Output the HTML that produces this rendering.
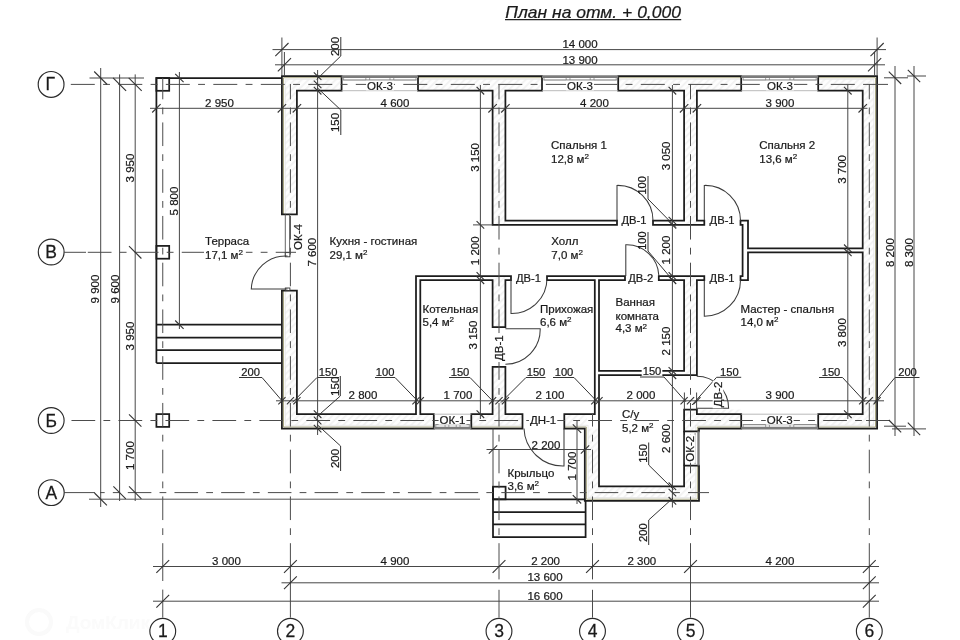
<!DOCTYPE html>
<html lang="ru"><head><meta charset="utf-8"><title>План на отм. + 0,000</title>
<style>html,body{margin:0;padding:0;background:#fff;}body{width:960px;height:640px;overflow:hidden;}svg{display:block;}text{font-family:"Liberation Sans",sans-serif;fill:#1a1a1a;stroke:#1a1a1a;stroke-width:0.22;}.wall{stroke:#1c1c1c;stroke-width:1.75;fill:none;stroke-linejoin:miter;}.wallf{stroke:none;fill:url(#hatch);}.thin{stroke:#3c3c3c;stroke-width:1.05;fill:none;}.ax{stroke:#505050;stroke-width:0.95;fill:none;stroke-dasharray:23 8.5 6.5 8;}.olive{stroke:#a9a784;stroke-width:1.0;fill:none;}</style></head><body>
<svg width="960" height="640" viewBox="0 0 960 640">
<defs><pattern id="hatch" width="4.8" height="4.8" patternUnits="userSpaceOnUse" patternTransform="rotate(45)"><rect width="4.8" height="4.8" fill="#fefefe"/><rect x="0" y="0" width="1.7" height="4.8" fill="#f2f2f2"/></pattern></defs>
<rect width="960" height="640" fill="#ffffff"/>
<g opacity="0.999">
<rect x="281.90" y="76.10" width="59.70" height="14.60" class="wallf"/>
<rect x="418.00" y="76.10" width="124.00" height="14.60" class="wallf"/>
<rect x="618.20" y="76.10" width="123.00" height="14.60" class="wallf"/>
<rect x="818.20" y="76.10" width="58.90" height="14.60" class="wallf"/>
<rect x="281.90" y="76.10" width="15.00" height="138.20" class="wallf"/>
<rect x="281.90" y="290.50" width="15.00" height="138.10" class="wallf"/>
<rect x="862.70" y="76.10" width="14.40" height="352.50" class="wallf"/>
<rect x="281.90" y="414.20" width="151.90" height="14.40" class="wallf"/>
<rect x="471.30" y="414.20" width="51.20" height="14.40" class="wallf"/>
<rect x="564.30" y="414.20" width="22.50" height="14.40" class="wallf"/>
<rect x="684.10" y="409.50" width="57.10" height="19.10" class="wallf"/>
<rect x="818.20" y="414.20" width="58.90" height="14.40" class="wallf"/>
<rect x="584.80" y="428.60" width="14.20" height="72.20" class="wallf"/>
<rect x="584.80" y="486.30" width="114.20" height="14.50" class="wallf"/>
<rect x="684.10" y="465.50" width="14.90" height="35.30" class="wallf"/>
<rect x="684.10" y="409.50" width="14.90" height="21.80" class="wallf"/>
<rect x="492.60" y="90.70" width="12.80" height="134.20" class="wallf"/>
<rect x="492.60" y="276.00" width="12.80" height="51.00" class="wallf"/>
<rect x="492.60" y="366.80" width="12.80" height="47.40" class="wallf"/>
<rect x="684.10" y="90.70" width="12.80" height="134.20" class="wallf"/>
<rect x="684.10" y="276.00" width="12.80" height="99.20" class="wallf"/>
<path d="M283.59999999999997,214.3 L283.59999999999997,77.8 L341.6,77.8" stroke="#fff" stroke-width="3.4" fill="none" stroke-linecap="butt"/>
<path d="M418.0,77.8 L542.0,77.8 M618.2,77.8 L741.2,77.8" stroke="#fff" stroke-width="3.4" fill="none" stroke-linecap="butt"/>
<path d="M818.2,77.8 L875.4,77.8 L875.4,426.90000000000003 L818.2,426.90000000000003" stroke="#fff" stroke-width="3.4" fill="none" stroke-linecap="butt"/>
<path d="M283.59999999999997,290.5 L283.59999999999997,426.90000000000003 L433.8,426.90000000000003 M471.3,426.90000000000003 L522.5,426.90000000000003" stroke="#fff" stroke-width="3.4" fill="none" stroke-linecap="butt"/>
<path d="M564.3,426.90000000000003 L586.5,426.90000000000003 L586.5,499.1 L697.3,499.1 L697.3,465.5 M697.3,431.3 L697.3,426.90000000000003 L741.2,426.90000000000003" stroke="#fff" stroke-width="3.4" fill="none" stroke-linecap="butt"/>
<path d="M285.2,214.3 L285.2,79.39999999999999 L341.6,79.39999999999999" stroke="#dcdcdc" stroke-width="0.6" fill="none"/>
<path d="M418.0,79.39999999999999 L542.0,79.39999999999999 M618.2,79.39999999999999 L741.2,79.39999999999999" stroke="#dcdcdc" stroke-width="0.6" fill="none"/>
<path d="M818.2,79.39999999999999 L873.8000000000001,79.39999999999999 L873.8000000000001,425.3 L818.2,425.3" stroke="#dcdcdc" stroke-width="0.6" fill="none"/>
<path d="M285.2,290.5 L285.2,425.3 L433.8,425.3 M471.3,425.3 L522.5,425.3" stroke="#dcdcdc" stroke-width="0.6" fill="none"/>
<path d="M564.3,425.3 L588.0999999999999,425.3 L588.0999999999999,497.5 L695.7,497.5 L695.7,465.5 M695.7,431.3 L695.7,425.3 L741.2,425.3" stroke="#dcdcdc" stroke-width="0.6" fill="none"/>
<path class="olive" d="M283.5,214.3 L283.5,77.69999999999999 L341.6,77.69999999999999"/>
<path class="olive" d="M418.0,77.69999999999999 L542.0,77.69999999999999 M618.2,77.69999999999999 L741.2,77.69999999999999"/>
<path class="olive" d="M818.2,77.69999999999999 L875.5,77.69999999999999 L875.5,427.0 L818.2,427.0"/>
<path class="olive" d="M283.5,290.5 L283.5,427.0 L433.8,427.0 M471.3,427.0 L522.5,427.0"/>
<path class="olive" d="M564.3,427.0 L586.4,427.0 L586.4,499.2 L697.4,499.2 L697.4,465.5 M697.4,431.3 L697.4,427.0 L741.2,427.0"/>
<path d="M281.90,76.10 L341.60,76.10 L341.60,90.70 L296.90,90.70 L296.90,214.30 L281.90,214.30 Z" class="wall"/>
<path d="M418.00,76.10 L542.00,76.10 L542.00,90.70 L505.40,90.70 L505.40,220.60 L617.00,220.60 L617.00,224.90 L492.60,224.90 L492.60,90.70 L418.00,90.70 Z" class="wall"/>
<path d="M618.20,76.10 L741.20,76.10 L741.20,90.70 L696.90,90.70 L696.90,220.60 L704.30,220.60 L704.30,224.90 L653.00,224.90 L653.00,220.60 L684.10,220.60 L684.10,90.70 L618.20,90.70 Z" class="wall"/>
<path d="M818.20,76.10 L877.10,76.10 L877.10,428.60 L818.20,428.60 L818.20,414.20 L862.70,414.20 L862.70,252.30 L748.00,252.30 L748.00,280.20 L740.50,280.20 L740.50,276.00 L742.60,276.00 L742.60,224.90 L740.50,224.90 L740.50,220.60 L748.00,220.60 L748.00,248.30 L862.70,248.30 L862.70,90.70 L818.20,90.70 Z" class="wall"/>
<path d="M281.90,290.50 L296.90,290.50 L296.90,414.20 L416.00,414.20 L416.00,276.00 L511.00,276.00 L511.00,280.20 L505.40,280.20 L505.40,327.00 L492.60,327.00 L492.60,280.20 L420.30,280.20 L420.30,414.20 L433.80,414.20 L433.80,428.60 L281.90,428.60 Z" class="wall"/>
<path d="M471.30,414.20 L492.60,414.20 L492.60,366.80 L505.40,366.80 L505.40,414.20 L522.50,414.20 L522.50,428.60 L471.30,428.60 Z" class="wall"/>
<path d="M547.00,276.00 L625.00,276.00 L625.00,280.20 L599.00,280.20 L599.00,370.90 L684.10,370.90 L684.10,280.20 L658.80,280.20 L658.80,276.00 L704.30,276.00 L704.30,280.20 L696.90,280.20 L696.90,375.20 L599.00,375.20 L599.00,486.30 L684.10,486.30 L684.10,465.50 L699.00,465.50 L699.00,500.80 L584.80,500.80 L584.80,428.60 L564.30,428.60 L564.30,414.20 L594.80,414.20 L594.80,280.20 L547.00,280.20 Z" class="wall"/>
<path d="M684.10,409.50 L696.90,409.50 L696.90,414.20 L741.20,414.20 L741.20,428.60 L699.00,428.60 L699.00,431.30 L684.10,431.30 Z" class="wall"/>
<path d="M156.40,363.00 L156.40,78.00 L281.90,78.00" class="wall"/>
<path d="M156.40,324.70 L281.90,324.70" class="wall"/>
<path d="M156.40,337.50 L281.90,337.50" class="wall"/>
<path d="M156.40,350.20 L281.90,350.20" class="wall"/>
<path d="M156.40,363.00 L281.90,363.00" class="wall"/>
<rect x="156.40" y="78.00" width="12.8" height="12.8" class="wall" fill="#fff"/>
<rect x="156.40" y="245.90" width="12.8" height="12.8" class="wall" fill="#fff"/>
<rect x="156.40" y="414.10" width="12.8" height="12.8" class="wall" fill="#fff"/>
<path d="M493.00,486.70 L493.00,537.00 L585.60,537.00 L585.60,500.80" class="wall"/>
<line x1="493.00" y1="428.60" x2="493.00" y2="486.70" stroke="#474747" stroke-width="1.0" />
<path d="M493.00,499.30 L585.60,499.30" class="wall"/>
<path d="M493.00,512.00 L585.60,512.00" class="wall"/>
<path d="M493.00,524.40 L585.60,524.40" class="wall"/>
<rect x="493.00" y="486.70" width="12.6" height="12.6" class="wall"/>
<line x1="341.6" y1="76.6" x2="418.0" y2="76.6" stroke="#7c7c7c" stroke-width="2.6"/>
<line x1="343.10" y1="80.00" x2="416.50" y2="80.00" stroke="#666" stroke-width="0.9" />
<line x1="343.60" y1="77.70" x2="343.60" y2="80.00" stroke="#777" stroke-width="0.7" />
<line x1="365.83" y1="77.70" x2="365.83" y2="80.00" stroke="#777" stroke-width="0.7" />
<line x1="369.63" y1="77.70" x2="369.63" y2="80.00" stroke="#777" stroke-width="0.7" />
<line x1="389.97" y1="77.70" x2="389.97" y2="80.00" stroke="#777" stroke-width="0.7" />
<line x1="393.77" y1="77.70" x2="393.77" y2="80.00" stroke="#777" stroke-width="0.7" />
<line x1="416.00" y1="77.70" x2="416.00" y2="80.00" stroke="#777" stroke-width="0.7" />
<line x1="341.60" y1="90.70" x2="418.00" y2="90.70" stroke="#a8a8a8" stroke-width="0.8" />
<line x1="542.0" y1="76.6" x2="618.2" y2="76.6" stroke="#7c7c7c" stroke-width="2.6"/>
<line x1="543.50" y1="80.00" x2="616.70" y2="80.00" stroke="#666" stroke-width="0.9" />
<line x1="544.00" y1="77.70" x2="544.00" y2="80.00" stroke="#777" stroke-width="0.7" />
<line x1="566.17" y1="77.70" x2="566.17" y2="80.00" stroke="#777" stroke-width="0.7" />
<line x1="569.97" y1="77.70" x2="569.97" y2="80.00" stroke="#777" stroke-width="0.7" />
<line x1="590.23" y1="77.70" x2="590.23" y2="80.00" stroke="#777" stroke-width="0.7" />
<line x1="594.03" y1="77.70" x2="594.03" y2="80.00" stroke="#777" stroke-width="0.7" />
<line x1="616.20" y1="77.70" x2="616.20" y2="80.00" stroke="#777" stroke-width="0.7" />
<line x1="542.00" y1="90.70" x2="618.20" y2="90.70" stroke="#a8a8a8" stroke-width="0.8" />
<line x1="741.2" y1="76.6" x2="818.2" y2="76.6" stroke="#7c7c7c" stroke-width="2.6"/>
<line x1="742.70" y1="80.00" x2="816.70" y2="80.00" stroke="#666" stroke-width="0.9" />
<line x1="743.20" y1="77.70" x2="743.20" y2="80.00" stroke="#777" stroke-width="0.7" />
<line x1="765.63" y1="77.70" x2="765.63" y2="80.00" stroke="#777" stroke-width="0.7" />
<line x1="769.43" y1="77.70" x2="769.43" y2="80.00" stroke="#777" stroke-width="0.7" />
<line x1="789.97" y1="77.70" x2="789.97" y2="80.00" stroke="#777" stroke-width="0.7" />
<line x1="793.77" y1="77.70" x2="793.77" y2="80.00" stroke="#777" stroke-width="0.7" />
<line x1="816.20" y1="77.70" x2="816.20" y2="80.00" stroke="#777" stroke-width="0.7" />
<line x1="741.20" y1="90.70" x2="818.20" y2="90.70" stroke="#a8a8a8" stroke-width="0.8" />
<line x1="741.2" y1="428.1" x2="818.2" y2="428.1" stroke="#7c7c7c" stroke-width="2.6"/>
<line x1="742.70" y1="424.70" x2="816.70" y2="424.70" stroke="#666" stroke-width="0.9" />
<line x1="743.20" y1="427.00" x2="743.20" y2="424.70" stroke="#777" stroke-width="0.7" />
<line x1="765.63" y1="427.00" x2="765.63" y2="424.70" stroke="#777" stroke-width="0.7" />
<line x1="769.43" y1="427.00" x2="769.43" y2="424.70" stroke="#777" stroke-width="0.7" />
<line x1="789.97" y1="427.00" x2="789.97" y2="424.70" stroke="#777" stroke-width="0.7" />
<line x1="793.77" y1="427.00" x2="793.77" y2="424.70" stroke="#777" stroke-width="0.7" />
<line x1="816.20" y1="427.00" x2="816.20" y2="424.70" stroke="#777" stroke-width="0.7" />
<line x1="741.20" y1="414.20" x2="818.20" y2="414.20" stroke="#a8a8a8" stroke-width="0.8" />
<line x1="433.8" y1="428.1" x2="471.3" y2="428.1" stroke="#7c7c7c" stroke-width="2.6"/>
<line x1="435.30" y1="424.70" x2="469.80" y2="424.70" stroke="#666" stroke-width="0.9" />
<line x1="435.80" y1="427.00" x2="435.80" y2="424.70" stroke="#777" stroke-width="0.7" />
<line x1="445.07" y1="427.00" x2="445.07" y2="424.70" stroke="#777" stroke-width="0.7" />
<line x1="448.87" y1="427.00" x2="448.87" y2="424.70" stroke="#777" stroke-width="0.7" />
<line x1="456.23" y1="427.00" x2="456.23" y2="424.70" stroke="#777" stroke-width="0.7" />
<line x1="460.03" y1="427.00" x2="460.03" y2="424.70" stroke="#777" stroke-width="0.7" />
<line x1="469.30" y1="427.00" x2="469.30" y2="424.70" stroke="#777" stroke-width="0.7" />
<line x1="433.80" y1="414.20" x2="471.30" y2="414.20" stroke="#a8a8a8" stroke-width="0.8" />
<line x1="698.5" y1="431.3" x2="698.5" y2="465.5" stroke="#7c7c7c" stroke-width="2.4"/>
<line x1="695.10" y1="433.00" x2="695.10" y2="464.00" stroke="#777" stroke-width="0.8" />
<path d="M684.10,431.30 L684.10,465.50" class="wall"/>
<line x1="285.30" y1="214.30" x2="285.30" y2="256.50" stroke="#555" stroke-width="0.9" />
<line x1="289.60" y1="214.30" x2="289.60" y2="256.50" stroke="#555" stroke-width="0.9" />
<rect x="285.3" y="252.6" width="4.6" height="4.2" fill="#fff" stroke="#333" stroke-width="0.9"/>
<rect x="285.3" y="288.0" width="4.6" height="2.5" fill="#fff" stroke="#333" stroke-width="0.9"/>
<path class="thin" stroke="#333" d="M287.50,288.90 L251.30,288.90 A34.50,34.50 0 0 1 287.50,256.00"/>
<path class="thin" stroke="#333" d="M617.00,220.60 L617.00,185.40 A35.20,35.20 0 0 1 653.00,220.60"/>
<path class="thin" stroke="#333" d="M704.30,220.60 L704.30,185.40 A35.20,35.20 0 0 1 740.50,220.60"/>
<path class="thin" stroke="#333" d="M704.30,280.20 L704.30,316.20 A36.00,36.00 0 0 0 740.50,280.20"/>
<path class="thin" stroke="#333" d="M511.00,278.20 L511.00,313.50 A35.30,35.30 0 0 0 547.00,278.20"/>
<path class="thin" stroke="#333" d="M625.80,276.00 L625.80,244.80 A32.00,32.00 0 0 1 658.80,276.00"/>
<path class="thin" stroke="#333" d="M505.40,328.80 L540.20,328.80 A34.80,34.80 0 0 1 505.40,364.20"/>
<path class="thin" stroke="#333" d="M564.00,428.60 L564.00,466.00 A39.00,39.00 0 0 1 524.00,428.60"/>
<path class="thin" stroke="#333" d="M696.70,376.2 A32,32 0 0 1 728.6,408.2 L696.70,408.2"/>
<line x1="684.40" y1="392.50" x2="684.40" y2="409.50" stroke="#474747" stroke-width="1.0" />
<line x1="696.60" y1="392.50" x2="696.60" y2="409.50" stroke="#474747" stroke-width="1.0" />
<line x1="64.3" y1="84.4" x2="866" y2="84.4" stroke="#4c4c4c" stroke-width="1" stroke-dasharray="23.99 8.31 6.89 8.31" stroke-dashoffset="41.00"/>
<line x1="866.00" y1="84.40" x2="888.00" y2="84.40" stroke="#4c4c4c" stroke-width="1" />
<line x1="64.30" y1="252.30" x2="86.00" y2="252.30" stroke="#4c4c4c" stroke-width="1" />
<line x1="87.8" y1="252.3" x2="296" y2="252.3" stroke="#4c4c4c" stroke-width="1" stroke-dasharray="23.73 8.22 6.81 8.22" stroke-dashoffset="0.00"/>
<line x1="64.3" y1="420.5" x2="866" y2="420.5" stroke="#4c4c4c" stroke-width="1" stroke-dasharray="23.73 8.22 6.81 8.22" stroke-dashoffset="39.80"/>
<line x1="866.00" y1="420.50" x2="890.00" y2="420.50" stroke="#4c4c4c" stroke-width="1" />
<line x1="64.30" y1="492.60" x2="95.00" y2="492.60" stroke="#4c4c4c" stroke-width="1" />
<line x1="100" y1="492.6" x2="709" y2="492.6" stroke="#4c4c4c" stroke-width="1" stroke-dasharray="23.58 8.17 6.77 8.17" stroke-dashoffset="18.90"/>
<line x1="162.75" y1="78" x2="162.75" y2="543.2" stroke="#4c4c4c" stroke-width="1" stroke-dasharray="23.61 8.18 6.78 8.18" stroke-dashoffset="2.30"/>
<line x1="162.75" y1="543.20" x2="162.75" y2="581.00" stroke="#4c4c4c" stroke-width="1" />
<line x1="162.75" y1="589.60" x2="162.75" y2="617.60" stroke="#4c4c4c" stroke-width="1" />
<line x1="290.4" y1="84" x2="290.4" y2="543.2" stroke="#4c4c4c" stroke-width="1" stroke-dasharray="23.61 8.18 6.78 8.18" stroke-dashoffset="8.30"/>
<line x1="290.40" y1="543.20" x2="290.40" y2="617.60" stroke="#4c4c4c" stroke-width="1" />
<line x1="499.0" y1="84" x2="499.0" y2="543.2" stroke="#4c4c4c" stroke-width="1" stroke-dasharray="23.61 8.18 6.78 8.18" stroke-dashoffset="8.30"/>
<line x1="499.00" y1="543.20" x2="499.00" y2="579.40" stroke="#4c4c4c" stroke-width="1" />
<line x1="499.00" y1="589.80" x2="499.00" y2="617.60" stroke="#4c4c4c" stroke-width="1" />
<line x1="592.5" y1="414" x2="592.5" y2="543.2" stroke="#4c4c4c" stroke-width="1" stroke-dasharray="23.61 8.18 6.78 8.18" stroke-dashoffset="11.05"/>
<line x1="592.50" y1="543.20" x2="592.50" y2="579.40" stroke="#4c4c4c" stroke-width="1" />
<line x1="592.50" y1="589.80" x2="592.50" y2="617.60" stroke="#4c4c4c" stroke-width="1" />
<line x1="690.5" y1="84" x2="690.5" y2="543.2" stroke="#4c4c4c" stroke-width="1" stroke-dasharray="23.61 8.18 6.78 8.18" stroke-dashoffset="8.30"/>
<line x1="690.50" y1="543.20" x2="690.50" y2="617.60" stroke="#4c4c4c" stroke-width="1" />
<line x1="869.3" y1="84" x2="869.3" y2="543.2" stroke="#4c4c4c" stroke-width="1" stroke-dasharray="23.61 8.18 6.78 8.18" stroke-dashoffset="8.30"/>
<line x1="869.30" y1="543.20" x2="869.30" y2="617.60" stroke="#4c4c4c" stroke-width="1" />
<circle cx="51.1" cy="84.4" r="12.9" fill="#fff" stroke="#2a2a2a" stroke-width="1.15"/>
<circle cx="51.2" cy="252.0" r="12.9" fill="#fff" stroke="#2a2a2a" stroke-width="1.15"/>
<circle cx="51.2" cy="420.5" r="12.9" fill="#fff" stroke="#2a2a2a" stroke-width="1.15"/>
<circle cx="51.3" cy="492.6" r="12.9" fill="#fff" stroke="#2a2a2a" stroke-width="1.15"/>
<circle cx="162.75" cy="631.3" r="12.9" fill="#fff" stroke="#2a2a2a" stroke-width="1.15"/>
<circle cx="290.4" cy="631.3" r="12.9" fill="#fff" stroke="#2a2a2a" stroke-width="1.15"/>
<circle cx="499.0" cy="631.3" r="12.9" fill="#fff" stroke="#2a2a2a" stroke-width="1.15"/>
<circle cx="592.5" cy="631.3" r="12.9" fill="#fff" stroke="#2a2a2a" stroke-width="1.15"/>
<circle cx="690.5" cy="631.3" r="12.9" fill="#fff" stroke="#2a2a2a" stroke-width="1.15"/>
<circle cx="869.3" cy="631.3" r="12.9" fill="#fff" stroke="#2a2a2a" stroke-width="1.15"/>
<line x1="272.50" y1="49.60" x2="886.00" y2="49.60" stroke="#474747" stroke-width="1.0" />
<line x1="275.00" y1="64.80" x2="885.00" y2="64.80" stroke="#474747" stroke-width="1.0" />
<line x1="281.90" y1="37.50" x2="281.90" y2="76.10" stroke="#474747" stroke-width="1.0" />
<line x1="284.40" y1="52.00" x2="284.40" y2="76.10" stroke="#474747" stroke-width="1.0" />
<line x1="877.10" y1="37.50" x2="877.10" y2="76.10" stroke="#474747" stroke-width="1.0" />
<line x1="874.60" y1="52.00" x2="874.60" y2="76.10" stroke="#474747" stroke-width="1.0" />
<line x1="275.30" y1="56.20" x2="288.50" y2="43.00" stroke="#333" stroke-width="1.1" />
<line x1="277.80" y1="71.40" x2="291.00" y2="58.20" stroke="#333" stroke-width="1.1" />
<line x1="870.50" y1="56.20" x2="883.70" y2="43.00" stroke="#333" stroke-width="1.1" />
<line x1="868.00" y1="71.40" x2="881.20" y2="58.20" stroke="#333" stroke-width="1.1" />
<line x1="150.00" y1="108.30" x2="867.50" y2="108.30" stroke="#474747" stroke-width="1.0" />
<line x1="152.20" y1="112.50" x2="160.60" y2="104.10" stroke="#333" stroke-width="1.1" />
<line x1="277.70" y1="112.50" x2="286.10" y2="104.10" stroke="#333" stroke-width="1.1" />
<line x1="292.70" y1="112.50" x2="301.10" y2="104.10" stroke="#333" stroke-width="1.1" />
<line x1="488.40" y1="112.50" x2="496.80" y2="104.10" stroke="#333" stroke-width="1.1" />
<line x1="501.20" y1="112.50" x2="509.60" y2="104.10" stroke="#333" stroke-width="1.1" />
<line x1="679.90" y1="112.50" x2="688.30" y2="104.10" stroke="#333" stroke-width="1.1" />
<line x1="692.70" y1="112.50" x2="701.10" y2="104.10" stroke="#333" stroke-width="1.1" />
<line x1="858.50" y1="112.50" x2="866.90" y2="104.10" stroke="#333" stroke-width="1.1" />
<line x1="276.00" y1="400.80" x2="884.00" y2="400.80" stroke="#474747" stroke-width="1.0" />
<line x1="278.30" y1="404.40" x2="285.50" y2="397.20" stroke="#333" stroke-width="1.1" />
<line x1="286.80" y1="404.40" x2="294.00" y2="397.20" stroke="#333" stroke-width="1.1" />
<line x1="293.30" y1="404.40" x2="300.50" y2="397.20" stroke="#333" stroke-width="1.1" />
<line x1="412.40" y1="404.40" x2="419.60" y2="397.20" stroke="#333" stroke-width="1.1" />
<line x1="416.70" y1="404.40" x2="423.90" y2="397.20" stroke="#333" stroke-width="1.1" />
<line x1="489.00" y1="404.40" x2="496.20" y2="397.20" stroke="#333" stroke-width="1.1" />
<line x1="495.40" y1="404.40" x2="502.60" y2="397.20" stroke="#333" stroke-width="1.1" />
<line x1="501.80" y1="404.40" x2="509.00" y2="397.20" stroke="#333" stroke-width="1.1" />
<line x1="591.20" y1="404.40" x2="598.40" y2="397.20" stroke="#333" stroke-width="1.1" />
<line x1="595.40" y1="404.40" x2="602.60" y2="397.20" stroke="#333" stroke-width="1.1" />
<line x1="680.50" y1="404.40" x2="687.70" y2="397.20" stroke="#333" stroke-width="1.1" />
<line x1="686.90" y1="404.40" x2="694.10" y2="397.20" stroke="#333" stroke-width="1.1" />
<line x1="693.30" y1="404.40" x2="700.50" y2="397.20" stroke="#333" stroke-width="1.1" />
<line x1="859.10" y1="404.40" x2="866.30" y2="397.20" stroke="#333" stroke-width="1.1" />
<line x1="865.70" y1="404.40" x2="872.90" y2="397.20" stroke="#333" stroke-width="1.1" />
<line x1="873.50" y1="404.40" x2="880.70" y2="397.20" stroke="#333" stroke-width="1.1" />
<line x1="239.00" y1="377.50" x2="262.00" y2="377.50" stroke="#333" stroke-width="1.0" />
<line x1="262.00" y1="377.50" x2="282.90" y2="401.80" stroke="#333" stroke-width="1.0" />
<line x1="317.00" y1="377.50" x2="339.00" y2="377.50" stroke="#333" stroke-width="1.0" />
<line x1="317.00" y1="377.50" x2="292.50" y2="402.30" stroke="#333" stroke-width="1.0" />
<line x1="375.00" y1="377.50" x2="395.00" y2="377.50" stroke="#333" stroke-width="1.0" />
<line x1="395.00" y1="377.50" x2="418.50" y2="401.80" stroke="#333" stroke-width="1.0" />
<line x1="449.00" y1="377.50" x2="470.00" y2="377.50" stroke="#333" stroke-width="1.0" />
<line x1="470.00" y1="377.50" x2="493.50" y2="401.80" stroke="#333" stroke-width="1.0" />
<line x1="526.00" y1="377.50" x2="545.50" y2="377.50" stroke="#333" stroke-width="1.0" />
<line x1="526.00" y1="377.50" x2="501.00" y2="402.50" stroke="#333" stroke-width="1.0" />
<line x1="553.00" y1="377.50" x2="574.00" y2="377.50" stroke="#333" stroke-width="1.0" />
<line x1="574.00" y1="377.50" x2="597.50" y2="402.00" stroke="#333" stroke-width="1.0" />
<line x1="640.00" y1="377.00" x2="664.00" y2="377.00" stroke="#333" stroke-width="1.0" />
<line x1="664.00" y1="377.00" x2="686.00" y2="401.80" stroke="#333" stroke-width="1.0" />
<line x1="716.60" y1="377.30" x2="741.20" y2="377.30" stroke="#333" stroke-width="1.0" />
<line x1="716.60" y1="377.30" x2="692.00" y2="405.00" stroke="#333" stroke-width="1.0" />
<line x1="819.00" y1="377.50" x2="842.50" y2="377.50" stroke="#333" stroke-width="1.0" />
<line x1="842.50" y1="377.50" x2="865.00" y2="401.80" stroke="#333" stroke-width="1.0" />
<line x1="895.00" y1="377.50" x2="919.50" y2="377.50" stroke="#333" stroke-width="1.0" />
<line x1="895.00" y1="377.50" x2="874.50" y2="402.50" stroke="#333" stroke-width="1.0" />
<line x1="486.50" y1="449.50" x2="591.00" y2="449.50" stroke="#474747" stroke-width="1.0" />
<line x1="488.80" y1="453.70" x2="497.20" y2="445.30" stroke="#333" stroke-width="1.1" />
<line x1="580.80" y1="453.70" x2="589.20" y2="445.30" stroke="#333" stroke-width="1.1" />
<line x1="577.00" y1="420.00" x2="577.00" y2="504.00" stroke="#474747" stroke-width="1.0" />
<line x1="572.80" y1="424.40" x2="581.20" y2="432.80" stroke="#333" stroke-width="1.1" />
<line x1="572.80" y1="495.10" x2="581.20" y2="503.50" stroke="#333" stroke-width="1.1" />
<line x1="153.00" y1="566.50" x2="879.00" y2="566.50" stroke="#474747" stroke-width="1.0" />
<line x1="281.50" y1="582.80" x2="879.00" y2="582.80" stroke="#474747" stroke-width="1.0" />
<line x1="153.00" y1="601.20" x2="879.00" y2="601.20" stroke="#474747" stroke-width="1.0" />
<line x1="156.35" y1="572.90" x2="169.15" y2="560.10" stroke="#333" stroke-width="1.1" />
<line x1="284.00" y1="572.90" x2="296.80" y2="560.10" stroke="#333" stroke-width="1.1" />
<line x1="492.60" y1="572.90" x2="505.40" y2="560.10" stroke="#333" stroke-width="1.1" />
<line x1="586.10" y1="572.90" x2="598.90" y2="560.10" stroke="#333" stroke-width="1.1" />
<line x1="684.10" y1="572.90" x2="696.90" y2="560.10" stroke="#333" stroke-width="1.1" />
<line x1="862.90" y1="572.90" x2="875.70" y2="560.10" stroke="#333" stroke-width="1.1" />
<line x1="284.00" y1="589.20" x2="296.80" y2="576.40" stroke="#333" stroke-width="1.1" />
<line x1="862.90" y1="589.20" x2="875.70" y2="576.40" stroke="#333" stroke-width="1.1" />
<line x1="156.35" y1="607.60" x2="169.15" y2="594.80" stroke="#333" stroke-width="1.1" />
<line x1="862.90" y1="607.60" x2="875.70" y2="594.80" stroke="#333" stroke-width="1.1" />
<line x1="100.70" y1="68.00" x2="100.70" y2="507.00" stroke="#474747" stroke-width="1.0" />
<line x1="119.60" y1="74.40" x2="119.60" y2="501.00" stroke="#474747" stroke-width="1.0" />
<line x1="135.20" y1="74.40" x2="135.20" y2="501.00" stroke="#474747" stroke-width="1.0" />
<line x1="89.50" y1="78.00" x2="144.00" y2="78.00" stroke="#474747" stroke-width="1.0" />
<line x1="89.00" y1="499.20" x2="480.00" y2="499.20" stroke="#555" stroke-width="1.0" />
<line x1="94.20" y1="71.50" x2="107.20" y2="84.50" stroke="#333" stroke-width="1.1" />
<line x1="113.10" y1="77.90" x2="126.10" y2="90.90" stroke="#333" stroke-width="1.1" />
<line x1="128.70" y1="77.90" x2="141.70" y2="90.90" stroke="#333" stroke-width="1.1" />
<line x1="129.00" y1="246.10" x2="141.40" y2="258.50" stroke="#333" stroke-width="1.1" />
<line x1="129.00" y1="414.30" x2="141.40" y2="426.70" stroke="#333" stroke-width="1.1" />
<line x1="129.00" y1="486.40" x2="141.40" y2="498.80" stroke="#333" stroke-width="1.1" />
<line x1="113.40" y1="486.40" x2="125.80" y2="498.80" stroke="#333" stroke-width="1.1" />
<line x1="94.50" y1="493.00" x2="106.90" y2="505.40" stroke="#333" stroke-width="1.1" />
<line x1="179.40" y1="72.00" x2="179.40" y2="329.00" stroke="#474747" stroke-width="1.0" />
<line x1="175.20" y1="73.80" x2="183.60" y2="82.20" stroke="#333" stroke-width="1.1" />
<line x1="175.20" y1="320.50" x2="183.60" y2="328.90" stroke="#333" stroke-width="1.1" />
<line x1="317.60" y1="70.00" x2="317.60" y2="435.00" stroke="#474747" stroke-width="1.0" />
<line x1="313.80" y1="72.30" x2="321.40" y2="79.90" stroke="#333" stroke-width="1.1" />
<line x1="313.80" y1="80.60" x2="321.40" y2="88.20" stroke="#333" stroke-width="1.1" />
<line x1="313.80" y1="86.90" x2="321.40" y2="94.50" stroke="#333" stroke-width="1.1" />
<line x1="313.80" y1="410.40" x2="321.40" y2="418.00" stroke="#333" stroke-width="1.1" />
<line x1="313.80" y1="416.70" x2="321.40" y2="424.30" stroke="#333" stroke-width="1.1" />
<line x1="313.80" y1="424.80" x2="321.40" y2="432.40" stroke="#333" stroke-width="1.1" />
<line x1="340.80" y1="37.00" x2="340.80" y2="56.00" stroke="#333" stroke-width="1.0" />
<line x1="340.80" y1="56.00" x2="316.60" y2="79.50" stroke="#333" stroke-width="1.0" />
<line x1="340.80" y1="135.00" x2="340.80" y2="110.00" stroke="#333" stroke-width="1.0" />
<line x1="340.80" y1="110.00" x2="317.00" y2="87.50" stroke="#333" stroke-width="1.0" />
<line x1="340.30" y1="376.00" x2="340.30" y2="396.00" stroke="#333" stroke-width="1.0" />
<line x1="340.30" y1="396.00" x2="316.60" y2="417.00" stroke="#333" stroke-width="1.0" />
<line x1="340.60" y1="471.00" x2="340.60" y2="446.00" stroke="#333" stroke-width="1.0" />
<line x1="340.60" y1="446.00" x2="317.00" y2="424.50" stroke="#333" stroke-width="1.0" />
<line x1="480.40" y1="85.00" x2="480.40" y2="419.00" stroke="#474747" stroke-width="1.0" />
<line x1="476.60" y1="86.90" x2="484.20" y2="94.50" stroke="#333" stroke-width="1.1" />
<line x1="476.60" y1="221.10" x2="484.20" y2="228.70" stroke="#333" stroke-width="1.1" />
<line x1="476.60" y1="272.20" x2="484.20" y2="279.80" stroke="#333" stroke-width="1.1" />
<line x1="476.60" y1="276.40" x2="484.20" y2="284.00" stroke="#333" stroke-width="1.1" />
<line x1="476.60" y1="410.40" x2="484.20" y2="418.00" stroke="#333" stroke-width="1.1" />
<line x1="473.00" y1="224.90" x2="492.60" y2="224.90" stroke="#474747" stroke-width="1.0" />
<line x1="473.00" y1="90.70" x2="476.90" y2="90.70" stroke="#474747" stroke-width="0" />
<line x1="672.40" y1="85.00" x2="672.40" y2="507.50" stroke="#474747" stroke-width="1.0" />
<line x1="668.60" y1="86.90" x2="676.20" y2="94.50" stroke="#333" stroke-width="1.1" />
<line x1="668.60" y1="216.80" x2="676.20" y2="224.40" stroke="#333" stroke-width="1.1" />
<line x1="668.60" y1="221.10" x2="676.20" y2="228.70" stroke="#333" stroke-width="1.1" />
<line x1="668.60" y1="272.20" x2="676.20" y2="279.80" stroke="#333" stroke-width="1.1" />
<line x1="668.60" y1="276.40" x2="676.20" y2="284.00" stroke="#333" stroke-width="1.1" />
<line x1="668.60" y1="367.10" x2="676.20" y2="374.70" stroke="#333" stroke-width="1.1" />
<line x1="668.60" y1="371.40" x2="676.20" y2="379.00" stroke="#333" stroke-width="1.1" />
<line x1="668.60" y1="482.50" x2="676.20" y2="490.10" stroke="#333" stroke-width="1.1" />
<line x1="668.60" y1="488.80" x2="676.20" y2="496.40" stroke="#333" stroke-width="1.1" />
<line x1="668.60" y1="497.00" x2="676.20" y2="504.60" stroke="#333" stroke-width="1.1" />
<line x1="648.00" y1="176.00" x2="648.00" y2="199.00" stroke="#333" stroke-width="1.0" />
<line x1="648.00" y1="199.00" x2="676.00" y2="227.50" stroke="#333" stroke-width="1.0" />
<line x1="648.00" y1="232.00" x2="648.00" y2="251.00" stroke="#333" stroke-width="1.0" />
<line x1="648.00" y1="251.00" x2="676.00" y2="284.00" stroke="#333" stroke-width="1.0" />
<line x1="648.70" y1="442.50" x2="648.70" y2="465.00" stroke="#333" stroke-width="1.0" />
<line x1="648.70" y1="465.00" x2="673.50" y2="489.50" stroke="#333" stroke-width="1.0" />
<line x1="648.70" y1="545.00" x2="648.70" y2="520.00" stroke="#333" stroke-width="1.0" />
<line x1="648.70" y1="520.00" x2="673.00" y2="498.00" stroke="#333" stroke-width="1.0" />
<line x1="847.80" y1="85.00" x2="847.80" y2="419.00" stroke="#474747" stroke-width="1.0" />
<line x1="844.00" y1="86.90" x2="851.60" y2="94.50" stroke="#333" stroke-width="1.1" />
<line x1="844.00" y1="244.50" x2="851.60" y2="252.10" stroke="#333" stroke-width="1.1" />
<line x1="844.00" y1="248.50" x2="851.60" y2="256.10" stroke="#333" stroke-width="1.1" />
<line x1="844.00" y1="410.40" x2="851.60" y2="418.00" stroke="#333" stroke-width="1.1" />
<line x1="895.00" y1="66.00" x2="895.00" y2="436.00" stroke="#474747" stroke-width="1.0" />
<line x1="914.00" y1="66.00" x2="914.00" y2="436.00" stroke="#474747" stroke-width="1.0" />
<line x1="884.00" y1="77.80" x2="908.00" y2="77.80" stroke="#474747" stroke-width="1.0" />
<line x1="907.00" y1="76.00" x2="926.00" y2="76.00" stroke="#474747" stroke-width="1.0" />
<line x1="884.00" y1="426.20" x2="906.00" y2="426.20" stroke="#474747" stroke-width="1.0" />
<line x1="892.00" y1="428.90" x2="926.00" y2="428.90" stroke="#474747" stroke-width="1.0" />
<line x1="888.80" y1="71.60" x2="901.20" y2="84.00" stroke="#333" stroke-width="1.1" />
<line x1="907.80" y1="69.80" x2="920.20" y2="82.20" stroke="#333" stroke-width="1.1" />
<line x1="888.80" y1="420.00" x2="901.20" y2="432.40" stroke="#333" stroke-width="1.1" />
<line x1="907.80" y1="422.70" x2="920.20" y2="435.10" stroke="#333" stroke-width="1.1" />
<line x1="505.00" y1="19.60" x2="681.20" y2="19.60" stroke="#222" stroke-width="1.1" />
<g opacity="0.28"><circle cx="39" cy="622" r="12" fill="none" stroke="#ececec" stroke-width="4"/><text x="66" y="629" font-size="19" font-weight="bold" style="fill:#efefef;stroke:none">ДомКлик</text></g>
<text x="50.20" y="89.97" font-size="17.5" text-anchor="middle" style="stroke-width:0.26">Г</text>
<text x="51.20" y="258.26" font-size="17.5" text-anchor="middle" style="stroke-width:0.26">В</text>
<text x="51.20" y="426.76" font-size="17.5" text-anchor="middle" style="stroke-width:0.26">Б</text>
<text x="51.30" y="498.87" font-size="17.5" text-anchor="middle" style="stroke-width:0.26">А</text>
<text x="162.75" y="636.76" font-size="17.5" text-anchor="middle" style="stroke-width:0.26">1</text>
<text x="290.40" y="636.76" font-size="17.5" text-anchor="middle" style="stroke-width:0.26">2</text>
<text x="499.00" y="636.76" font-size="17.5" text-anchor="middle" style="stroke-width:0.26">3</text>
<text x="592.50" y="636.76" font-size="17.5" text-anchor="middle" style="stroke-width:0.26">4</text>
<text x="690.50" y="636.76" font-size="17.5" text-anchor="middle" style="stroke-width:0.26">5</text>
<text x="869.30" y="636.76" font-size="17.5" text-anchor="middle" style="stroke-width:0.26">6</text>
<text x="580.00" y="48.42" font-size="11.5" text-anchor="middle" >14 000</text>
<text x="580.00" y="63.62" font-size="11.5" text-anchor="middle" >13 900</text>
<text x="219.50" y="106.62" font-size="11.5" text-anchor="middle" >2 950</text>
<text x="395.00" y="106.62" font-size="11.5" text-anchor="middle" >4 600</text>
<text x="594.50" y="106.62" font-size="11.5" text-anchor="middle" >4 200</text>
<text x="780.00" y="106.62" font-size="11.5" text-anchor="middle" >3 900</text>
<text x="363.00" y="399.12" font-size="11.5" text-anchor="middle" >2 800</text>
<text x="458.00" y="398.72" font-size="11.5" text-anchor="middle" >1 700</text>
<text x="550.00" y="398.72" font-size="11.5" text-anchor="middle" >2 100</text>
<text x="641.00" y="399.12" font-size="11.5" text-anchor="middle" >2 000</text>
<text x="780.00" y="399.12" font-size="11.5" text-anchor="middle" >3 900</text>
<text x="250.70" y="375.81" font-size="11.2" text-anchor="middle" >200</text>
<text x="328.20" y="375.81" font-size="11.2" text-anchor="middle" >150</text>
<text x="385.20" y="375.81" font-size="11.2" text-anchor="middle" >100</text>
<text x="460.00" y="375.81" font-size="11.2" text-anchor="middle" >150</text>
<text x="536.00" y="375.81" font-size="11.2" text-anchor="middle" >150</text>
<text x="564.00" y="375.81" font-size="11.2" text-anchor="middle" >100</text>
<rect x="641.66" y="366.49" width="20.69" height="9.42" fill="#fff"/>
<text x="652.00" y="375.31" font-size="11.2" text-anchor="middle" >150</text>
<text x="729.30" y="375.61" font-size="11.2" text-anchor="middle" >150</text>
<text x="831.00" y="375.81" font-size="11.2" text-anchor="middle" >150</text>
<text x="907.50" y="375.81" font-size="11.2" text-anchor="middle" >200</text>
<text x="546.00" y="448.52" font-size="11.5" text-anchor="middle" >2 200</text>
<text x="571.80" y="466.00" font-size="11.5" text-anchor="middle" transform="rotate(-90 571.80 466.00) translate(0 4.12)">1 700</text>
<text x="226.50" y="564.72" font-size="11.5" text-anchor="middle" >3 000</text>
<text x="395.00" y="564.72" font-size="11.5" text-anchor="middle" >4 900</text>
<text x="545.60" y="564.72" font-size="11.5" text-anchor="middle" >2 200</text>
<text x="641.80" y="564.72" font-size="11.5" text-anchor="middle" >2 300</text>
<text x="780.00" y="564.72" font-size="11.5" text-anchor="middle" >4 200</text>
<text x="545.00" y="581.32" font-size="11.5" text-anchor="middle" >13 600</text>
<text x="545.00" y="599.52" font-size="11.5" text-anchor="middle" >16 600</text>
<text x="95.00" y="289.00" font-size="11.5" text-anchor="middle" transform="rotate(-90 95.00 289.00) translate(0 4.12)">9 900</text>
<text x="114.40" y="289.00" font-size="11.5" text-anchor="middle" transform="rotate(-90 114.40 289.00) translate(0 4.12)">9 600</text>
<text x="130.00" y="168.00" font-size="11.5" text-anchor="middle" transform="rotate(-90 130.00 168.00) translate(0 4.12)">3 950</text>
<text x="130.00" y="336.00" font-size="11.5" text-anchor="middle" transform="rotate(-90 130.00 336.00) translate(0 4.12)">3 950</text>
<text x="129.80" y="455.60" font-size="11.5" text-anchor="middle" transform="rotate(-90 129.80 455.60) translate(0 4.12)">1 700</text>
<text x="174.00" y="201.00" font-size="11.5" text-anchor="middle" transform="rotate(-90 174.00 201.00) translate(0 4.12)">5 800</text>
<text x="311.70" y="252.20" font-size="11.5" text-anchor="middle" transform="rotate(-90 311.70 252.20) translate(0 4.12)">7 600</text>
<text x="335.20" y="46.50" font-size="11.5" text-anchor="middle" transform="rotate(-90 335.20 46.50) translate(0 4.12)">200</text>
<text x="335.20" y="122.50" font-size="11.5" text-anchor="middle" transform="rotate(-90 335.20 122.50) translate(0 4.12)">150</text>
<text x="335.00" y="386.30" font-size="11.5" text-anchor="middle" transform="rotate(-90 335.00 386.30) translate(0 4.12)">150</text>
<text x="334.60" y="458.50" font-size="11.5" text-anchor="middle" transform="rotate(-90 334.60 458.50) translate(0 4.12)">200</text>
<text x="474.60" y="157.40" font-size="11.5" text-anchor="middle" transform="rotate(-90 474.60 157.40) translate(0 4.12)">3 150</text>
<text x="474.60" y="250.80" font-size="11.5" text-anchor="middle" transform="rotate(-90 474.60 250.80) translate(0 4.12)">1 200</text>
<text x="472.60" y="335.00" font-size="11.5" text-anchor="middle" transform="rotate(-90 472.60 335.00) translate(0 4.12)">3 150</text>
<text x="666.20" y="155.90" font-size="11.5" text-anchor="middle" transform="rotate(-90 666.20 155.90) translate(0 4.12)">3 050</text>
<text x="666.20" y="250.00" font-size="11.5" text-anchor="middle" transform="rotate(-90 666.20 250.00) translate(0 4.12)">1 200</text>
<text x="666.20" y="341.00" font-size="11.5" text-anchor="middle" transform="rotate(-90 666.20 341.00) translate(0 4.12)">2 150</text>
<text x="666.20" y="438.50" font-size="11.5" text-anchor="middle" transform="rotate(-90 666.20 438.50) translate(0 4.12)">2 600</text>
<text x="641.90" y="185.40" font-size="11" text-anchor="middle" transform="rotate(-90 641.90 185.40) translate(0 3.94)">100</text>
<text x="641.90" y="240.60" font-size="11" text-anchor="middle" transform="rotate(-90 641.90 240.60) translate(0 3.94)">100</text>
<text x="642.80" y="453.40" font-size="11.2" text-anchor="middle" transform="rotate(-90 642.80 453.40) translate(0 4.01)">150</text>
<text x="642.80" y="532.60" font-size="11.2" text-anchor="middle" transform="rotate(-90 642.80 532.60) translate(0 4.01)">200</text>
<text x="842.00" y="169.40" font-size="11.5" text-anchor="middle" transform="rotate(-90 842.00 169.40) translate(0 4.12)">3 700</text>
<text x="842.00" y="332.60" font-size="11.5" text-anchor="middle" transform="rotate(-90 842.00 332.60) translate(0 4.12)">3 800</text>
<text x="889.90" y="252.60" font-size="11.5" text-anchor="middle" transform="rotate(-90 889.90 252.60) translate(0 4.12)">8 200</text>
<text x="908.80" y="252.60" font-size="11.5" text-anchor="middle" transform="rotate(-90 908.80 252.60) translate(0 4.12)">8 300</text>
<rect x="204.00" y="235.88" width="46.11" height="10.63" fill="#fff"/>
<text x="205.00" y="245.32" font-size="11.5" text-anchor="start" >Терраса</text>
<rect x="204.00" y="249.48" width="41.88" height="10.63" fill="#fff"/>
<text x="205.00" y="258.92" font-size="11.5" text-anchor="start" >17,1 м<tspan font-size="8" dy="-3.8">2</tspan></text>
<text x="329.50" y="245.32" font-size="11.5" text-anchor="start" >Кухня - гостиная</text>
<text x="329.50" y="258.92" font-size="11.5" text-anchor="start" >29,1 м<tspan font-size="8" dy="-3.8">2</tspan></text>
<text x="551.00" y="149.32" font-size="11.5" text-anchor="start" >Спальня 1</text>
<text x="551.00" y="162.92" font-size="11.5" text-anchor="start" >12,8 м<tspan font-size="8" dy="-3.8">2</tspan></text>
<text x="759.30" y="149.32" font-size="11.5" text-anchor="start" >Спальня 2</text>
<text x="759.30" y="162.92" font-size="11.5" text-anchor="start" >13,6 м<tspan font-size="8" dy="-3.8">2</tspan></text>
<text x="551.30" y="244.72" font-size="11.5" text-anchor="start" >Холл</text>
<text x="551.30" y="258.62" font-size="11.5" text-anchor="start" >7,0 м<tspan font-size="8" dy="-3.8">2</tspan></text>
<text x="422.50" y="312.92" font-size="11.5" text-anchor="start" >Котельная</text>
<text x="422.50" y="325.52" font-size="11.5" text-anchor="start" >5,4 м<tspan font-size="8" dy="-3.8">2</tspan></text>
<text x="540.00" y="312.92" font-size="11.5" text-anchor="start" >Прихожая</text>
<text x="540.00" y="325.52" font-size="11.5" text-anchor="start" >6,6 м<tspan font-size="8" dy="-3.8">2</tspan></text>
<text x="615.50" y="306.32" font-size="11.5" text-anchor="start" >Ванная</text>
<text x="615.50" y="319.52" font-size="11.5" text-anchor="start" >комната</text>
<text x="615.50" y="332.32" font-size="11.5" text-anchor="start" >4,3 м<tspan font-size="8" dy="-3.8">2</tspan></text>
<text x="740.50" y="312.92" font-size="11.5" text-anchor="start" >Мастер - спальня</text>
<text x="740.50" y="326.12" font-size="11.5" text-anchor="start" >14,0 м<tspan font-size="8" dy="-3.8">2</tspan></text>
<rect x="621.00" y="408.98" width="19.25" height="10.63" fill="#fff"/>
<text x="622.00" y="418.42" font-size="11.5" text-anchor="start" >С/у</text>
<rect x="621.00" y="422.18" width="35.48" height="10.63" fill="#fff"/>
<text x="622.00" y="431.62" font-size="11.5" text-anchor="start" >5,2 м<tspan font-size="8" dy="-3.8">2</tspan></text>
<text x="507.50" y="476.62" font-size="11.5" text-anchor="start" >Крыльцо</text>
<text x="507.50" y="490.12" font-size="11.5" text-anchor="start" >3,6 м<tspan font-size="8" dy="-3.8">2</tspan></text>
<rect x="366.07" y="80.78" width="27.87" height="9.63" fill="#fff"/>
<text x="380.00" y="89.82" font-size="11.5" text-anchor="middle" >ОК-3</text>
<rect x="566.07" y="80.78" width="27.87" height="9.63" fill="#fff"/>
<text x="580.00" y="89.82" font-size="11.5" text-anchor="middle" >ОК-3</text>
<rect x="766.07" y="80.78" width="27.87" height="9.63" fill="#fff"/>
<text x="780.00" y="89.82" font-size="11.5" text-anchor="middle" >ОК-3</text>
<rect x="765.77" y="415.08" width="27.87" height="9.63" fill="#fff"/>
<text x="779.70" y="424.12" font-size="11.5" text-anchor="middle" >ОК-3</text>
<rect x="438.57" y="415.08" width="27.87" height="9.63" fill="#fff"/>
<text x="452.50" y="424.12" font-size="11.5" text-anchor="middle" >ОК-1</text>
<rect x="528.94" y="415.08" width="28.32" height="9.63" fill="#fff"/>
<text x="543.10" y="424.12" font-size="11.5" text-anchor="middle" >ДН-1</text>
<text x="634.00" y="224.01" font-size="11.2" text-anchor="middle" >ДВ-1</text>
<text x="722.10" y="224.01" font-size="11.2" text-anchor="middle" >ДВ-1</text>
<text x="722.10" y="281.51" font-size="11.2" text-anchor="middle" >ДВ-1</text>
<text x="528.50" y="281.51" font-size="11.2" text-anchor="middle" >ДВ-1</text>
<text x="640.80" y="281.51" font-size="11.2" text-anchor="middle" >ДВ-2</text>
<text x="297.50" y="237.00" font-size="11.5" text-anchor="middle" transform="rotate(-90 297.50 237.00) translate(0 4.12)">ОК-4</text>
<rect x="493.88" y="334.36" width="10.63" height="27.69" fill="#fff"/>
<text x="499.20" y="348.20" font-size="11.5" text-anchor="middle" transform="rotate(-90 499.20 348.20) translate(0 4.12)">ДВ-1</text>
<rect x="684.88" y="434.87" width="10.63" height="27.87" fill="#fff"/>
<text x="690.20" y="448.80" font-size="11.5" text-anchor="middle" transform="rotate(-90 690.20 448.80) translate(0 4.12)">ОК-2</text>
<rect x="712.68" y="380.56" width="10.63" height="27.69" fill="#fff"/>
<text x="718.00" y="394.40" font-size="11.5" text-anchor="middle" transform="rotate(-90 718.00 394.40) translate(0 4.12)">ДВ-2</text>
<text x="505.3" y="17.7" font-size="16.2" font-style="italic" textLength="175.6" lengthAdjust="spacingAndGlyphs">План на отм. + 0,000</text>
</g>
</svg></body></html>
